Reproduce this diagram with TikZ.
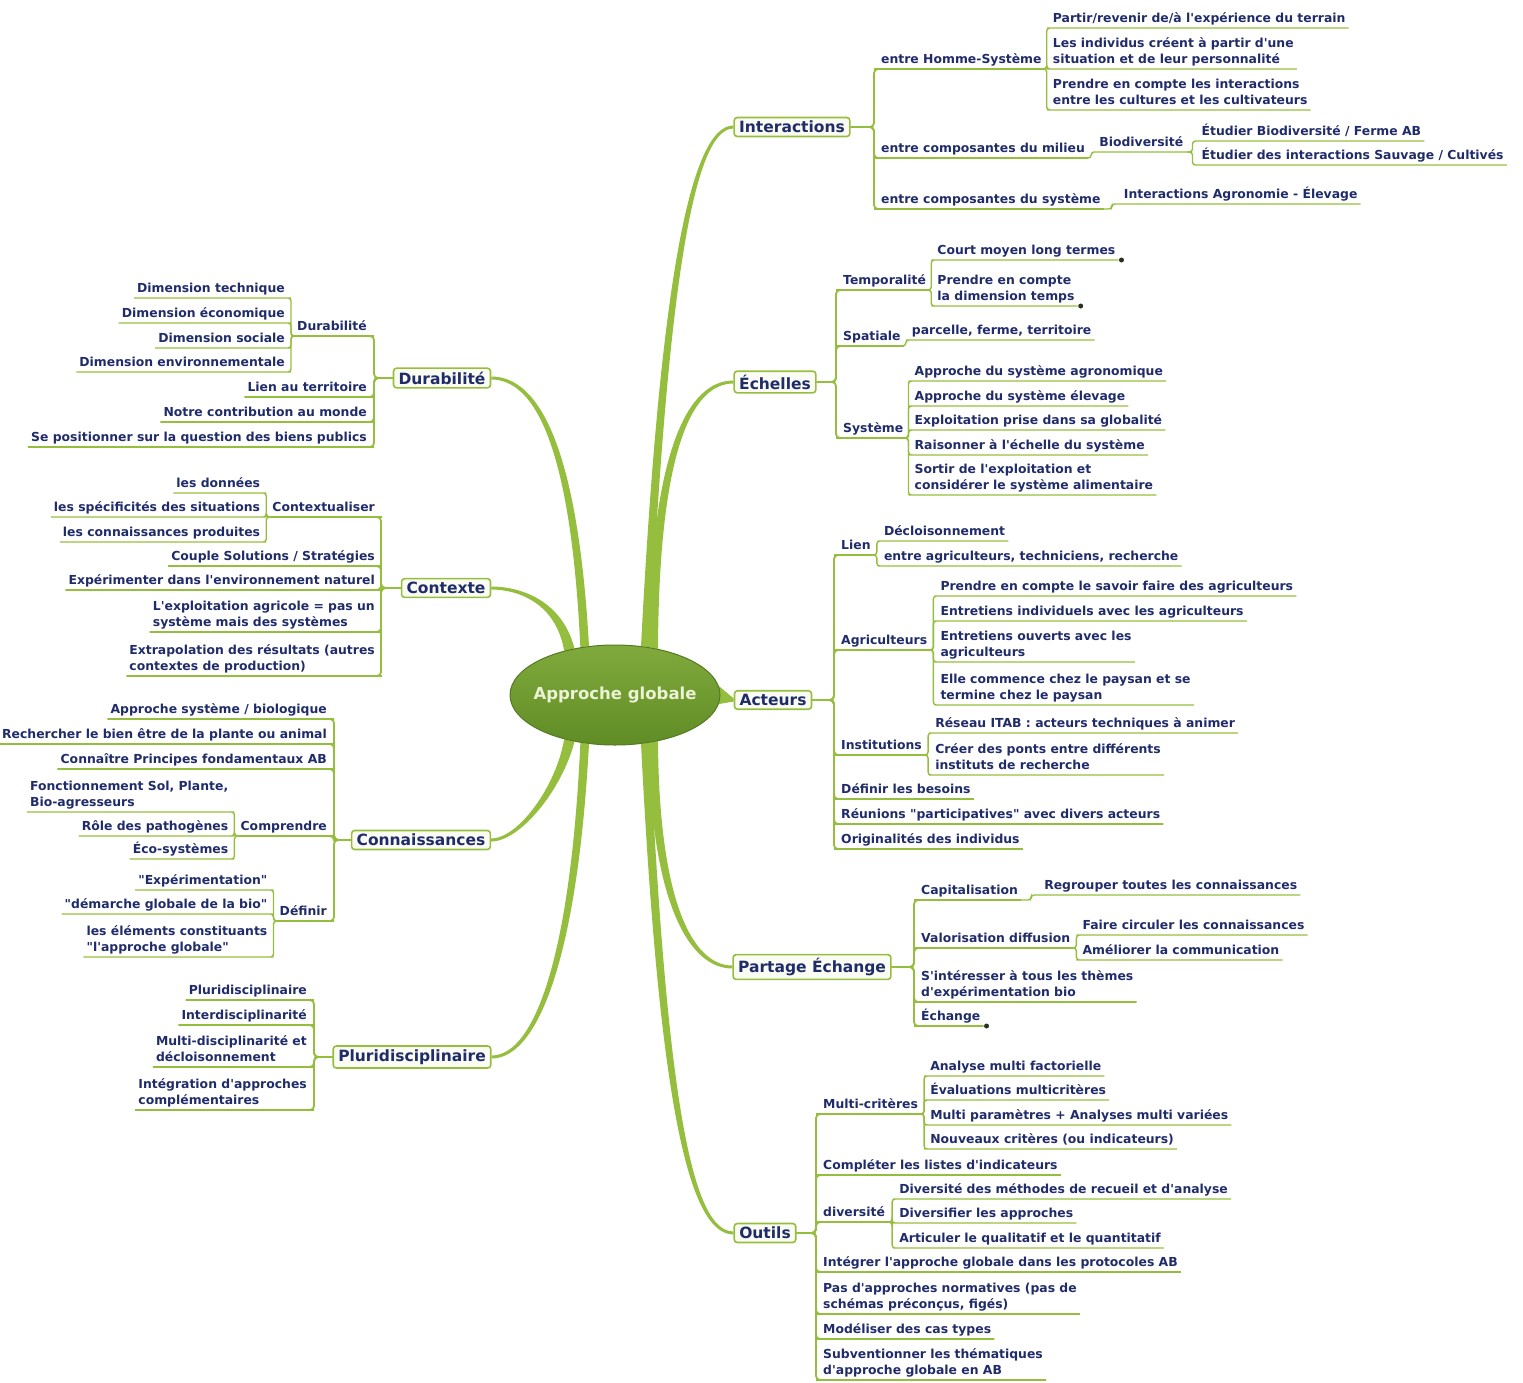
\documentclass[tikz,border=0pt]{standalone}
\usepackage{fontspec}
\newfontfamily\mapfont{DejaVu Sans}
\usetikzlibrary{shapes.geometric,calc}
\definecolor{linkgreen}{RGB}{150,190,62}
\definecolor{boxfill}{RGB}{250,252,243}
\definecolor{navy}{RGB}{32,44,105}
\definecolor{rootlight}{RGB}{128,170,60}
\definecolor{rootdark}{RGB}{96,140,38}
\definecolor{rootdraw}{RGB}{84,122,34}
\definecolor{roottext}{RGB}{236,242,212}
\definecolor{dotc}{RGB}{40,50,30}
\pgfdeclarelayer{background}
\pgfsetlayers{background,main}

\begin{document}
\begin{tikzpicture}[x=1pt, y=-1pt,
    root/.style={ellipse, draw=rootdraw, line width=1pt, top color=rootlight, bottom color=rootdark,
        minimum width=210pt, minimum height=100pt, inner xsep=-12pt, inner ysep=0pt,
        text=roottext, font=\mapfont\bfseries\fontsize{16.5}{20}\selectfont},
    topic/.style={draw=linkgreen, line width=1.6pt, rounded corners=3pt, fill=boxfill, text=navy,
        font=\mapfont\bfseries\fontsize{15.5}{18}\selectfont, inner xsep=5pt, inner ysep=3.5pt},
    sub/.style={text=navy, font=\mapfont\bfseries\fontsize{12.4}{16.5}\selectfont,
        inner xsep=3pt, inner ysep=2.5pt, text depth=2.5pt, align=left},
    rsub/.style={sub, anchor=south west},
    lsub/.style={sub, anchor=south east},
    trunk/.style={fill=linkgreen},
    link/.style={draw=linkgreen, line width=1.8pt, rounded corners=4pt},
    twig/.style={draw=linkgreen, line width=1.4pt, rounded corners=3pt}
]
\useasboundingbox (0,0) rectangle (1523,1382);

% Centre
\node[root] (ctr) at (615,695) {Approche globale};

% ---------- Interactions
\node[topic] (int) at (792,127) {Interactions};
\coordinate (intbus) at (874,127);
\node[rsub] (ihs) at (878,69) {entre Homme-Système};
\node[rsub, xshift=5pt] (ihs1) at (ihs.south east |- 0,28) {Partir/revenir de/à l'expérience du terrain};
\node[rsub, xshift=5pt] (ihs2) at (ihs.south east |- 0,69) {Les individus créent à partir d'une\\situation et de leur personnalité};
\node[rsub, xshift=5pt] (ihs3) at (ihs.south east |- 0,110) {Prendre en compte les interactions\\entre les cultures et les cultivateurs};
\node[rsub] (imil) at (878,158) {entre composantes du milieu};
\node[rsub, xshift=8pt] (ibio) at (imil.south east |- 0,152) {Biodiversité};
\node[rsub, xshift=12pt] (ibio1) at (ibio.south east |- 0,141) {Étudier Biodiversité / Ferme AB};
\node[rsub, xshift=12pt] (ibio2) at (ibio.south east |- 0,165) {Étudier des interactions Sauvage / Cultivés};
\node[rsub] (isys) at (878,209) {entre composantes du système};
\node[rsub, xshift=17pt] (isys1) at (isys.south east |- 0,204) {Interactions Agronomie - Élevage};

% ---------- Echelles
\node[topic] (ech) at (775,382) {Échelles};
\coordinate (echbus) at (836,382);
\node[rsub] (etmp) at (840,290) {Temporalité};
\node[rsub, xshift=5pt] (etmp1) at (etmp.south east |- 0,260) {Court moyen long termes};
\node[rsub, xshift=5pt] (etmp2) at (etmp.south east |- 0,306) {Prendre en compte\\la dimension temps};
\node[rsub] (espa) at (840,346) {Spatiale};
\node[rsub, xshift=5pt] (espa1) at (espa.south east |- 0,340) {parcelle, ferme, territoire};
\node[rsub] (esys) at (840,438) {Système};
\node[rsub, xshift=5pt] (esys1) at (esys.south east |- 0,381) {Approche du système agronomique};
\node[rsub, xshift=5pt] (esys2) at (esys.south east |- 0,406) {Approche du système élevage};
\node[rsub, xshift=5pt] (esys3) at (esys.south east |- 0,430) {Exploitation prise dans sa globalité};
\node[rsub, xshift=5pt] (esys4) at (esys.south east |- 0,455) {Raisonner à l'échelle du système};
\node[rsub, xshift=5pt] (esys5) at (esys.south east |- 0,495) {Sortir de l'exploitation et\\considérer le système alimentaire};

% ---------- Acteurs
\node[topic] (act) at (773,700) {Acteurs};
\coordinate (actbus) at (834,700);
\node[rsub] (alien) at (838,555) {Lien};
\node[rsub, xshift=7pt] (alien1) at (alien.south east |- 0,541) {Décloisonnement};
\node[rsub, xshift=7pt] (alien2) at (alien.south east |- 0,566) {entre agriculteurs, techniciens, recherche};
\node[rsub] (aagr) at (838,650) {Agriculteurs};
\node[rsub, xshift=7pt] (aagr1) at (aagr.south east |- 0,596) {Prendre en compte le savoir faire des agriculteurs};
\node[rsub, xshift=7pt] (aagr2) at (aagr.south east |- 0,621) {Entretiens individuels avec les agriculteurs};
\node[rsub, xshift=7pt] (aagr3) at (aagr.south east |- 0,662) {Entretiens ouverts avec les\\agriculteurs};
\node[rsub, xshift=7pt] (aagr4) at (aagr.south east |- 0,705) {Elle commence chez le paysan et se\\termine chez le paysan};
\node[rsub] (ains) at (838,755) {Institutions};
\node[rsub, xshift=7pt] (ains1) at (ains.south east |- 0,733) {Réseau ITAB : acteurs techniques à animer};
\node[rsub, xshift=7pt] (ains2) at (ains.south east |- 0,775) {Créer des ponts entre différents\\instituts de recherche};
\node[rsub] (abes) at (838,799) {Définir les besoins};
\node[rsub] (areu) at (838,824) {Réunions "participatives" avec divers acteurs};
\node[rsub] (aori) at (838,849) {Originalités des individus};

% ---------- Partage Echange
\node[topic] (par) at (812,967) {Partage Échange};
\coordinate (parbus) at (914,967);
\node[rsub] (pcap) at (918,900) {Capitalisation};
\node[rsub, xshift=20pt] (pcap1) at (pcap.south east |- 0,895) {Regrouper toutes les connaissances};
\node[rsub] (pval) at (918,948) {Valorisation diffusion};
\node[rsub, xshift=6pt] (pval1) at (pval.south east |- 0,935) {Faire circuler les connaissances};
\node[rsub, xshift=6pt] (pval2) at (pval.south east |- 0,960) {Améliorer la communication};
\node[rsub] (pint) at (918,1002) {S'intéresser à tous les thèmes\\d'expérimentation bio};
\node[rsub] (pech) at (918,1026) {Échange};

% ---------- Outils
\node[topic] (out) at (765,1233) {Outils};
\coordinate (outbus) at (816,1233);
\node[rsub] (omul) at (820,1114) {Multi-critères};
\node[rsub, xshift=6pt] (omul1) at (omul.south east |- 0,1076) {Analyse multi factorielle};
\node[rsub, xshift=6pt] (omul2) at (omul.south east |- 0,1100) {Évaluations multicritères};
\node[rsub, xshift=6pt] (omul3) at (omul.south east |- 0,1125) {Multi paramètres + Analyses multi variées};
\node[rsub, xshift=6pt] (omul4) at (omul.south east |- 0,1149) {Nouveaux critères (ou indicateurs)};
\node[rsub] (ocom) at (820,1175) {Compléter les listes d'indicateurs};
\node[rsub] (odiv) at (820,1222) {diversité};
\node[rsub, xshift=8pt] (odiv1) at (odiv.south east |- 0,1199) {Diversité des méthodes de recueil et d'analyse};
\node[rsub, xshift=8pt] (odiv2) at (odiv.south east |- 0,1223) {Diversifier les approches};
\node[rsub, xshift=8pt] (odiv3) at (odiv.south east |- 0,1248) {Articuler le qualitatif et le quantitatif};
\node[rsub] (oint) at (820,1272) {Intégrer l'approche globale dans les protocoles AB};
\node[rsub] (opas) at (820,1314) {Pas d'approches normatives (pas de\\schémas préconçus, figés)};
\node[rsub] (omod) at (820,1339) {Modéliser des cas types};
\node[rsub] (osub) at (820,1380) {Subventionner les thématiques\\d'approche globale en AB};

% ---------- Durabilite
\node[topic] (dur) at (442,378) {Durabilité};
\coordinate (durbus) at (374,378);
\node[lsub] (ddur) at (370,336) {Durabilité};
\node[lsub, xshift=-6pt] (ddur1) at (ddur.south west |- 0,298) {Dimension technique};
\node[lsub, xshift=-6pt] (ddur2) at (ddur.south west |- 0,323) {Dimension économique};
\node[lsub, xshift=-6pt] (ddur3) at (ddur.south west |- 0,348) {Dimension sociale};
\node[lsub, xshift=-6pt] (ddur4) at (ddur.south west |- 0,372) {Dimension environnementale};
\node[lsub] (dlie) at (370,397) {Lien au territoire};
\node[lsub] (dnot) at (370,422) {Notre contribution au monde};
\node[lsub] (dpos) at (370,447) {Se positionner sur la question des biens publics};

% ---------- Contexte
\node[topic] (ctx) at (446,588) {Contexte};
\coordinate (ctxbus) at (381,588);
\node[lsub] (cctx) at (378,517) {Contextualiser};
\node[lsub, xshift=-6pt] (cctx1) at (cctx.south west |- 0,493) {les données};
\node[lsub, xshift=-6pt] (cctx2) at (cctx.south west |- 0,517) {les spécificités des situations};
\node[lsub, xshift=-6pt] (cctx3) at (cctx.south west |- 0,542) {les connaissances produites};
\node[lsub] (ccou) at (378,566) {Couple Solutions / Stratégies};
\node[lsub] (cexp) at (378,590) {Expérimenter dans l'environnement naturel};
\node[lsub] (cexl) at (378,632) {L'exploitation agricole = pas un\\système mais des systèmes};
\node[lsub] (cext) at (378,676) {Extrapolation des résultats (autres\\contextes de production)};

% ---------- Connaissances
\node[topic] (con) at (421,840) {Connaissances};
\coordinate (conbus) at (334,840);
\node[lsub] (kapp) at (330,719) {Approche système / biologique};
\node[lsub] (krec) at (330,744) {Rechercher le bien être de la plante ou animal};
\node[lsub] (kcon) at (330,769) {Connaître Principes fondamentaux AB};
\node[lsub] (kcom) at (330,836) {Comprendre};
\node[lsub, xshift=-6pt] (kcom1) at (kcom.south west |- 0,812) {Fonctionnement Sol, Plante,\\Bio-agresseurs};
\node[lsub, xshift=-6pt] (kcom2) at (kcom.south west |- 0,836) {Rôle des pathogènes};
\node[lsub, xshift=-6pt] (kcom3) at (kcom.south west |- 0,859) {Éco-systèmes};
\node[lsub] (kdef) at (330,921) {Définir};
\node[lsub, xshift=-6pt] (kdef1) at (kdef.south west |- 0,890) {"Expérimentation"};
\node[lsub, xshift=-6pt] (kdef2) at (kdef.south west |- 0,914) {"démarche globale de la bio"};
\node[lsub, xshift=-6pt] (kdef3) at (kdef.south west |- 0,957) {les éléments constituants\\"l'approche globale"};

% ---------- Pluridisciplinaire
\node[topic] (plu) at (412,1057) {Pluridisciplinaire};
\coordinate (plubus) at (314,1057);
\node[lsub] (plu1) at (310,1000) {Pluridisciplinaire};
\node[lsub] (plu2) at (310,1025) {Interdisciplinarité};
\node[lsub] (plu3) at (310,1067) {Multi-disciplinarité et\\décloisonnement};
\node[lsub] (plu4) at (310,1110) {Intégration d'approches\\complémentaires};

% Branches
\begin{pgfonlayer}{background}
    % tapered trunks from the centre
    \fill[trunk] (ctr.62) .. controls (659,300) and (688,125.5) .. ([yshift=1.5pt]int.west)
        -- ([yshift=-1.5pt]int.west) .. controls (692,128.5) and (667,300) .. (ctr.54) -- cycle;
    \fill[trunk] (ctr.55) .. controls (651,450) and (688,380.5) .. ([yshift=1.5pt]ech.west)
        -- ([yshift=-1.5pt]ech.west) .. controls (692,383.5) and (659,450) .. (ctr.47) -- cycle;
    \fill[trunk] (ctr.5) -- ([yshift=1.5pt]act.west) -- ([yshift=-1.5pt]act.west) -- (ctr.-5) -- cycle;
    \fill[trunk] (ctr.-55) .. controls (651,900) and (688,968.5) .. ([yshift=-1.5pt]par.west)
        -- ([yshift=1.5pt]par.west) .. controls (692,965.5) and (659,900) .. (ctr.-47) -- cycle;
    \fill[trunk] (ctr.-62) .. controls (659,1100) and (688,1234.5) .. ([yshift=-1.5pt]out.west)
        -- ([yshift=1.5pt]out.west) .. controls (692,1231.5) and (667,1100) .. (ctr.-54) -- cycle;
    \fill[trunk] (ctr.118) .. controls (578,450) and (540,376.5) .. ([yshift=1.5pt]dur.east)
        -- ([yshift=-1.5pt]dur.east) .. controls (536,379.5) and (571,450) .. (ctr.126) -- cycle;
    \fill[trunk] (ctr.131) .. controls (562,600) and (520,586.5) .. ([yshift=1.5pt]ctx.east)
        -- ([yshift=-1.5pt]ctx.east) .. controls (518,589.5) and (556,603) .. (ctr.139) -- cycle;
    \fill[trunk] (ctr.229) .. controls (562,790) and (520,841.5) .. ([yshift=-1.5pt]con.east)
        -- ([yshift=1.5pt]con.east) .. controls (518,838.5) and (556,787) .. (ctr.221) -- cycle;
    \fill[trunk] (ctr.242) .. controls (578,950) and (540,1058.5) .. ([yshift=-1.5pt]plu.east)
        -- ([yshift=1.5pt]plu.east) .. controls (536,1055.5) and (571,950) .. (ctr.234) -- cycle;

    % right side
    \foreach \c in {ihs,imil,isys}
        \draw[link] (int.east) -- (intbus) |- (\c.south west) -- (\c.south east);
    \foreach \c in {ihs1,ihs2,ihs3}
        \draw[twig] (ihs.south east) -- ++(2,0) |- (\c.south west) -- (\c.south east);
    \draw[twig] (imil.south east) -- ++(3,0) |- (ibio.south west) -- (ibio.south east);
    \foreach \c in {ibio1,ibio2}
        \draw[twig] (ibio.south east) -- ++(6,0) |- (\c.south west) -- (\c.south east);
    \draw[twig] (isys.south east) -- ++(8,0) |- (isys1.south west) -- (isys1.south east);

    \foreach \c in {etmp,espa,esys}
        \draw[link] (ech.east) -- (echbus) |- (\c.south west) -- (\c.south east);
    \foreach \c in {etmp1,etmp2}
        \draw[twig] (etmp.south east) -- ++(2,0) |- (\c.south west) -- (\c.south east);
    \draw[twig] (espa.south east) -- ++(2,0) |- (espa1.south west) -- (espa1.south east);
    \foreach \c in {esys1,esys2,esys3,esys4,esys5}
        \draw[twig] (esys.south east) -- ++(2,0) |- (\c.south west) -- (\c.south east);

    \foreach \c in {alien,aagr,ains,abes,areu,aori}
        \draw[link] (act.east) -- (actbus) |- (\c.south west) -- (\c.south east);
    \foreach \c in {alien1,alien2}
        \draw[twig] (alien.south east) -- ++(3,0) |- (\c.south west) -- (\c.south east);
    \foreach \c in {aagr1,aagr2,aagr3,aagr4}
        \draw[twig] (aagr.south east) -- ++(3,0) |- (\c.south west) -- (\c.south east);
    \foreach \c in {ains1,ains2}
        \draw[twig] (ains.south east) -- ++(3,0) |- (\c.south west) -- (\c.south east);

    \foreach \c in {pcap,pval,pint,pech}
        \draw[link] (par.east) -- (parbus) |- (\c.south west) -- (\c.south east);
    \draw[twig] (pcap.south east) -- ++(10,0) |- (pcap1.south west) -- (pcap1.south east);
    \foreach \c in {pval1,pval2}
        \draw[twig] (pval.south east) -- ++(3,0) |- (\c.south west) -- (\c.south east);

    \foreach \c in {omul,ocom,odiv,oint,opas,omod,osub}
        \draw[link] (out.east) -- (outbus) |- (\c.south west) -- (\c.south east);
    \foreach \c in {omul1,omul2,omul3,omul4}
        \draw[twig] (omul.south east) -- ++(3,0) |- (\c.south west) -- (\c.south east);
    \foreach \c in {odiv1,odiv2,odiv3}
        \draw[twig] (odiv.south east) -- ++(4,0) |- (\c.south west) -- (\c.south east);

    % left side
    \foreach \c in {ddur,dlie,dnot,dpos}
        \draw[link] (dur.west) -- (durbus) |- (\c.south east) -- (\c.south west);
    \foreach \c in {ddur1,ddur2,ddur3,ddur4}
        \draw[twig] (ddur.south west) -- ++(-3,0) |- (\c.south east) -- (\c.south west);

    \foreach \c in {cctx,ccou,cexp,cexl,cext}
        \draw[link] (ctx.west) -- (ctxbus) |- (\c.south east) -- (\c.south west);
    \foreach \c in {cctx1,cctx2,cctx3}
        \draw[twig] (cctx.south west) -- ++(-3,0) |- (\c.south east) -- (\c.south west);

    \foreach \c in {kapp,krec,kcon,kcom,kdef}
        \draw[link] (con.west) -- (conbus) |- (\c.south east) -- (\c.south west);
    \foreach \c in {kcom1,kcom2,kcom3}
        \draw[twig] (kcom.south west) -- ++(-3,0) |- (\c.south east) -- (\c.south west);
    \foreach \c in {kdef1,kdef2,kdef3}
        \draw[twig] (kdef.south west) -- ++(-3,0) |- (\c.south east) -- (\c.south west);

    \foreach \c in {plu1,plu2,plu3,plu4}
        \draw[link] (plu.west) -- (plubus) |- (\c.south east) -- (\c.south west);
\end{pgfonlayer}

% collapse markers
\fill[dotc] ([xshift=3pt]etmp1.south east) circle (2.5pt);
\fill[dotc] ([xshift=3pt]etmp2.south east) circle (2.5pt);
\fill[dotc] ([xshift=3pt]pech.south east) circle (2.5pt);

\end{tikzpicture}
\end{document}
